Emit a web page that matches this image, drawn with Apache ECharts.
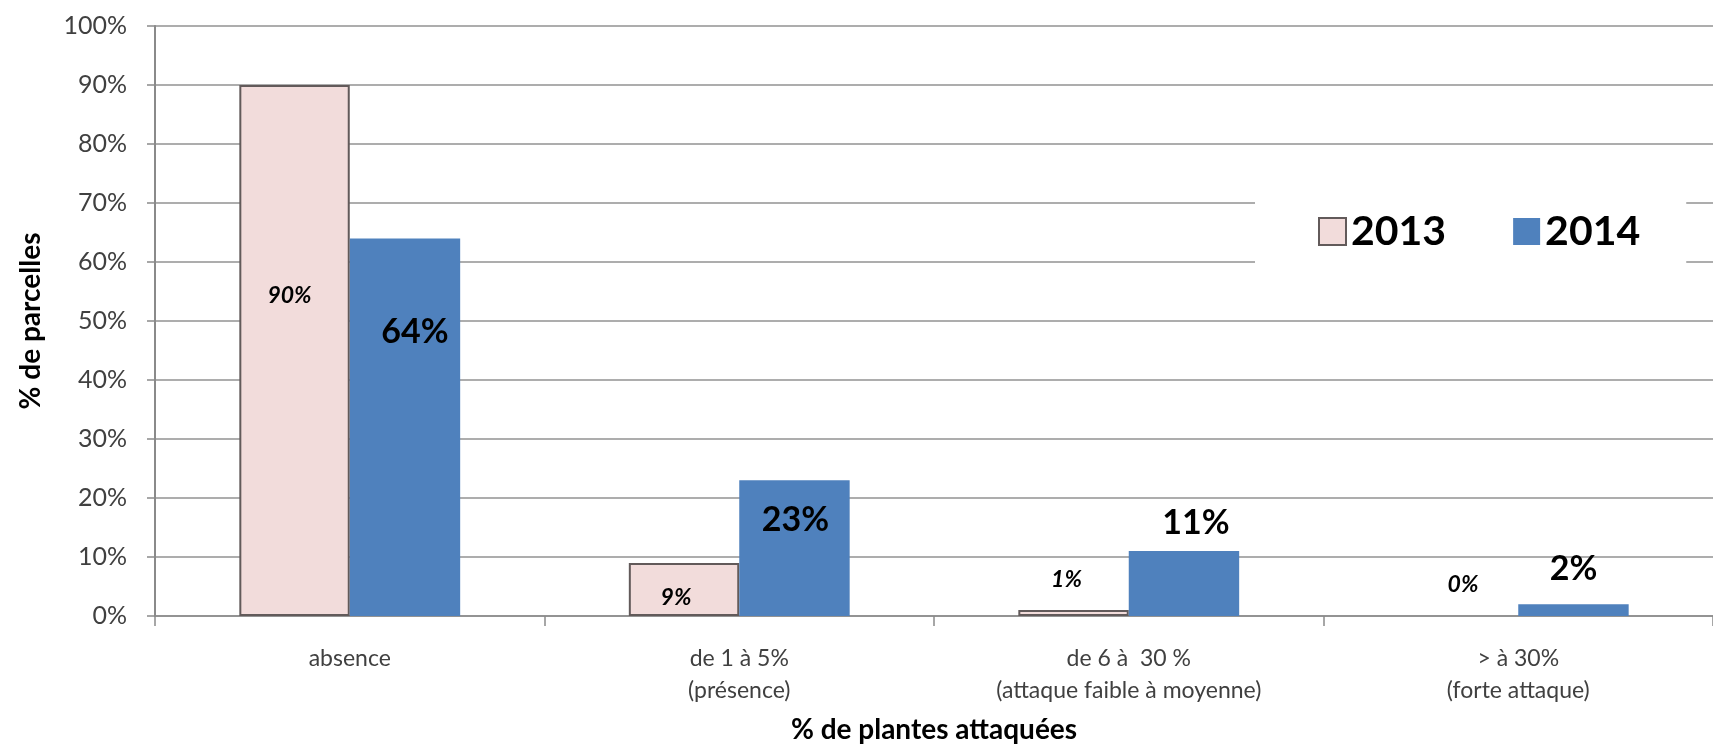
<!DOCTYPE html>
<html>
<head>
<meta charset="utf-8">
<title>% de parcelles selon le % de plantes attaquées</title>
<script src="https://cdn.jsdelivr.net/npm/echarts@6/dist/echarts.min.js"></script>
<style>
  html, body { margin: 0; padding: 0; background: #ffffff; }
  #chart { width: 1713px; height: 751px; }
</style>
</head>
<body>
<div id="chart"></div>
<script>
// Attack classes on the x axis
const categories = [
  'absence',
  'de 1 à 5%\n(présence)',
  'de 6 à  30 %\n(attaque faible à moyenne)',
  '> à 30%\n(forte attaque)'
];
const seriesNames = ['2013', '2014'];
// Share of plots (%) per class and year
const values2013 = [90, 9, 1, 0];
const values2014 = [64, 23, 11, 2];
// Value axis range
const yMin = 0;
const yMax = 100;
const yStep = 10;

// Hand-placed value labels: offsets from each bar top, in px
const labelShift2013 = [[-5, 211], [-8, 35], [-7, -31], [0, -31]];
const labelShift2014 = [[10, 94], [1, 40], [12, -28], [0, -35]];

const FONT = 'Lato, "Open Sans", sans-serif';

function buildData(values, shifts, hideEmptyBorder) {
  return values.map((v, i) => {
    const item = { value: v, label: { offset: shifts[i] } };
    if (hideEmptyBorder && v === 0) item.itemStyle = { borderWidth: 0 };
    return item;
  });
}

const chart = echarts.init(document.getElementById('chart'), null, { renderer: 'canvas' });

chart.setOption({
  backgroundColor: '#ffffff',
  animation: false,
  grid: { left: 155, top: 26, width: 1576, height: 590, containLabel: false },
  legend: {
    data: seriesNames,
    left: 1255,
    top: 166,
    orient: 'horizontal',
    backgroundColor: '#ffffff',
    padding: [45, 46, 45, 63],
    itemWidth: 27,
    itemHeight: 27,
    itemGap: 67,
    icon: 'rect',
    textStyle: { fontFamily: FONT, fontWeight: 'bold', fontSize: 41, color: '#000000' }
  },
  xAxis: {
    type: 'category',
    data: categories,
    name: '% de plantes attaquées',
    nameLocation: 'middle',
    nameGap: 100,
    nameTextStyle: { fontFamily: FONT, fontWeight: 'bold', fontSize: 28, color: '#000000' },
    axisLine: { show: true, lineStyle: { color: '#8a8a8a', width: 1.5 } },
    axisTick: { show: true, length: 10, lineStyle: { color: '#8a8a8a', width: 1.5 } },
    axisLabel: {
      interval: 0,
      margin: 27,
      fontFamily: FONT,
      fontSize: 23,
      lineHeight: 32,
      color: '#404040'
    },
    splitLine: { show: false }
  },
  yAxis: {
    type: 'value',
    min: yMin,
    max: yMax,
    interval: yStep,
    name: '% de parcelles',
    nameLocation: 'middle',
    nameGap: 110,
    nameRotate: 90,
    nameTextStyle: { fontFamily: FONT, fontWeight: 'bold', fontSize: 28, color: '#000000' },
    axisLine: { show: true, lineStyle: { color: '#8a8a8a', width: 2 } },
    axisTick: { show: true, length: 8, lineStyle: { color: '#8a8a8a', width: 1.5 } },
    axisLabel: {
      margin: 28,
      formatter: '{value}%',
      fontFamily: FONT,
      fontSize: 25,
      color: '#404040'
    },
    splitLine: { show: true, lineStyle: { color: '#929292', width: 1.5 } }
  },
  series: [
    {
      name: seriesNames[0],
      type: 'bar',
      barGap: '0%',
      barCategoryGap: '43.3%',
      data: buildData(values2013, labelShift2013, true),
      itemStyle: { color: '#f2dcdb', borderColor: '#625a5a', borderWidth: 2 },
      label: {
        show: true,
        position: 'top',
        distance: 0,
        verticalAlign: 'middle',
        formatter: '{c}%',
        fontFamily: FONT,
        fontStyle: 'italic',
        fontWeight: 'bold',
        fontSize: 23,
        color: '#000000'
      }
    },
    {
      name: seriesNames[1],
      type: 'bar',
      barGap: '0%',
      barCategoryGap: '43.3%',
      data: buildData(values2014, labelShift2014, false),
      itemStyle: { color: '#4f81bd' },
      label: {
        show: true,
        position: 'top',
        distance: 0,
        verticalAlign: 'middle',
        formatter: '{c}%',
        fontFamily: FONT,
        fontWeight: 'bold',
        fontSize: 34,
        color: '#000000'
      }
    }
  ]
});
</script>
</body>
</html>
